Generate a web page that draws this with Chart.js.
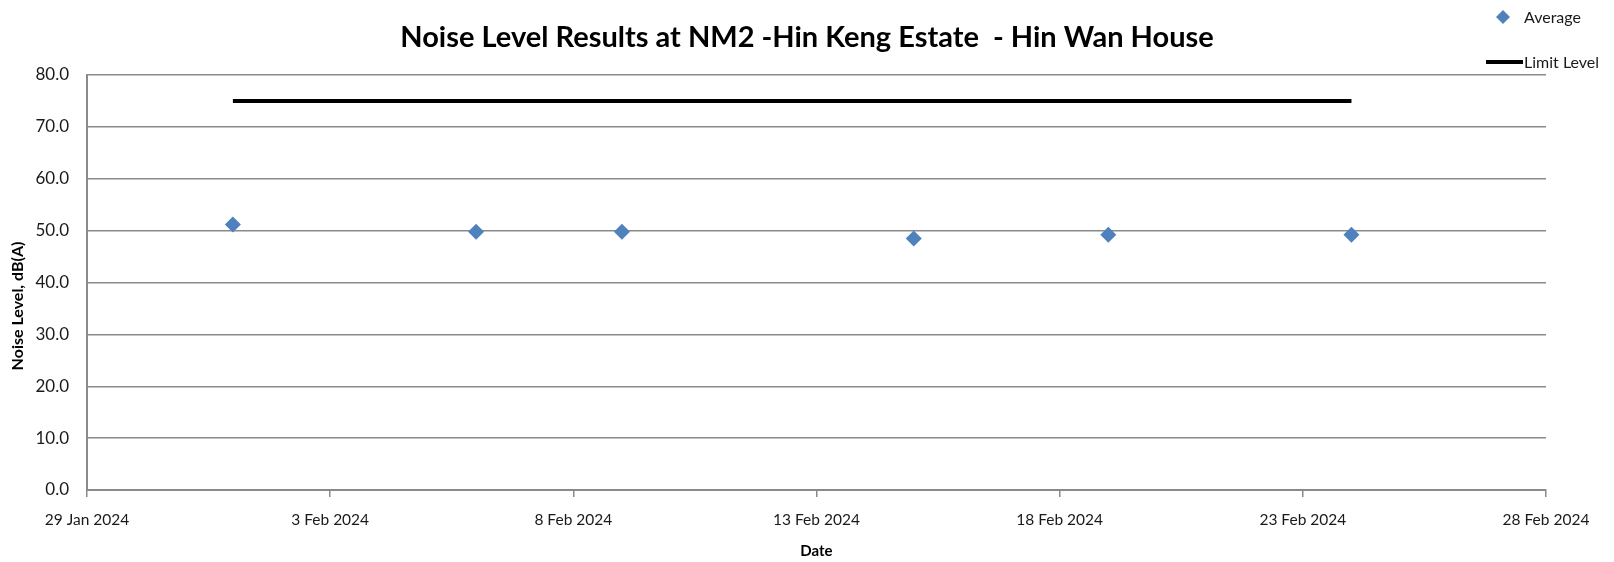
<!DOCTYPE html>
<html>
<head>
<meta charset="utf-8">
<script src="https://cdn.jsdelivr.net/npm/chart.js@4/dist/chart.umd.min.js"></script>
<style>
  html, body { margin: 0; padding: 0; background: #fff; }
  #c { display: block; }
</style>
</head>
<body>
<canvas id="c" width="1614" height="562"></canvas>
<script>
// ---- Data ----
const startDate = '2024-01-29';
const measureDates = ['2024-02-01', '2024-02-06', '2024-02-09', '2024-02-15', '2024-02-19', '2024-02-24'];
const averageValues = [51.2, 49.8, 49.8, 48.5, 49.2, 49.2];
const limitDates = ['2024-02-01', '2024-02-24'];
const limitValues = [75, 75];
const xTickLabels = ['29 Jan 2024', '3 Feb 2024', '8 Feb 2024', '13 Feb 2024', '18 Feb 2024', '23 Feb 2024', '28 Feb 2024'];
const yMin = 0, yMax = 80, yStep = 10;
const yTitle = 'Noise Level, dB(A)';

const DAY = 86400000;
const dayOffset = d => (Date.parse(d) - Date.parse(startDate)) / DAY;

const FONT = "Lato, 'Liberation Sans', Arial, sans-serif";
Chart.defaults.font.family = FONT;
Chart.defaults.color = '#1a1a1a';

const extrasPlugin = {
  id: 'extras',
  afterDraw(chart) {
    const ctx = chart.ctx;
    ctx.save();
    // Legend: Average diamond
    const cx = 1503, cy = 17, r = 7;
    ctx.fillStyle = '#4F81BD';
    ctx.beginPath();
    ctx.moveTo(cx, cy - r); ctx.lineTo(cx + r, cy); ctx.lineTo(cx, cy + r); ctx.lineTo(cx - r, cy);
    ctx.closePath(); ctx.fill();
    ctx.fillStyle = '#1a1a1a';
    ctx.font = '16px ' + FONT;
    ctx.textBaseline = 'middle';
    ctx.textAlign = 'left';
    ctx.fillText(chart.data.datasets[0].label, 1524, 18);
    // Legend: Limit line
    ctx.strokeStyle = '#000';
    ctx.lineWidth = 4;
    ctx.beginPath(); ctx.moveTo(1486, 62); ctx.lineTo(1523, 62); ctx.stroke();
    ctx.fillText(chart.data.datasets[1].label, 1524, 63);
    // Y axis title
    ctx.translate(18, 306);
    ctx.rotate(-Math.PI / 2);
    ctx.textAlign = 'center';
    ctx.fillStyle = '#000';
    ctx.font = 'bold 16px ' + FONT;
    ctx.fillText(yTitle, 0, 0);
    ctx.restore();
  }
};

new Chart(document.getElementById('c'), {
  type: 'scatter',
  data: {
    datasets: [
      {
        label: 'Average',
        data: measureDates.map((d, i) => ({ x: dayOffset(d), y: averageValues[i] })),
        pointStyle: 'rectRot',
        pointRadius: 8,
        pointHoverRadius: 8,
        backgroundColor: '#4F81BD',
        borderColor: '#4F81BD',
        borderWidth: 0,
        showLine: false,
        order: 1
      },
      {
        label: 'Limit Level',
        type: 'line',
        data: limitDates.map((d, i) => ({ x: dayOffset(d), y: limitValues[i] })),
        borderColor: '#000',
        borderWidth: 4,
        pointRadius: 0,
        fill: false,
        order: 2
      }
    ]
  },
  options: {
    responsive: false,
    animation: false,
    layout: { padding: { top: 0, right: 0, left: 0, bottom: 0 } },
    plugins: {
      legend: { display: false },
      tooltip: { enabled: false },
      title: {
        display: true,
        text: 'Noise Level Results at NM2 -Hin Keng Estate  - Hin Wan House',
        color: '#000',
        font: { size: 29, weight: 'bold', family: FONT, lineHeight: 1.2 },
        padding: { top: 20, bottom: 20.2 }
      }
    },
    scales: {
      x: {
        type: 'linear',
        min: 0,
        max: 30,
        afterBuildTicks(scale) {
          scale.ticks = xTickLabels.map((_, i) => ({ value: i * 5 }));
        },
        afterFit(scale) { scale.height = 72; scale.paddingLeft = 0; scale.paddingRight = 68; },
        ticks: {
          callback: (v) => xTickLabels[Math.round(v / 5)],
          font: { size: 15.5 },
          padding: 14,
          maxRotation: 0,
          autoSkip: false
        },
        grid: { drawOnChartArea: false, drawTicks: true, tickLength: 7, color: '#8a8a8a', lineWidth: 1.5 },
        border: { color: '#8a8a8a', width: 2 },
        title: {
          display: true,
          text: 'Date',
          font: { size: 15, weight: 'bold' },
          color: '#000',
          padding: { top: 0, bottom: 2 }
        }
      },
      y: {
        min: yMin,
        max: yMax,
        afterFit(scale) { scale.width = 87; },
        ticks: {
          stepSize: yStep,
          callback: (v) => v.toFixed(1),
          font: { size: 17 },
          padding: 18
        },
        grid: { color: '#8a8a8a', lineWidth: 1.5, drawTicks: false },
        border: { color: '#8a8a8a', width: 2 },
        title: { display: false }
      }
    }
  },
  plugins: [extrasPlugin]
});
</script>
</body>
</html>
